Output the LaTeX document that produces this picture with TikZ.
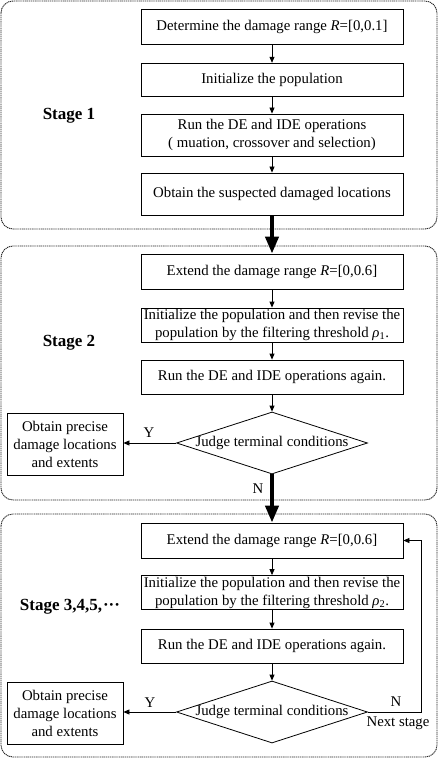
\documentclass[tikz,border=0pt]{standalone}
\usepackage{fontspec}
\setmainfont{Liberation Serif}
\usetikzlibrary{shapes.geometric,arrows.meta}
\newcommand\fs{\fontsize{14.8}{18}\selectfont}
\newcommand\fstage{\fontsize{17}{20}\selectfont\bfseries}
\tikzset{
  stepbox/.style={draw, line width=0.8pt, minimum width=262pt, inner sep=0pt, align=center, font=\fs},
  outbox/.style={draw, line width=0.8pt, minimum width=116pt, minimum height=62pt, inner sep=0pt, align=center, font=\fs},
  judge/.style={draw, diamond, line width=0.8pt, minimum width=191pt, minimum height=62pt, inner sep=0pt},
  txt/.style={font=\fs, inner sep=0pt},
  stagelbl/.style={font=\fstage, inner sep=0pt},
  frame/.style={draw=black!85, line width=0.9pt, dash pattern=on 1.2pt off 0.7pt, rounded corners=12pt},
  arr/.style={line width=0.8pt, -{Triangle[length=6pt,width=5pt]}},
  bigarr/.style={line width=4pt, -{Triangle[length=17pt,width=13pt]}}
}
\begin{document}
\begin{tikzpicture}[x=1pt,y=-1pt]
\useasboundingbox (0,0) rectangle (439,759);
% frames
\draw[frame] (1,1) rectangle (437,229);
\draw[frame] (1,246) rectangle (437,500);
\draw[frame] (1,514) rectangle (437,757);
% stage labels
\node[stagelbl] (s1) at (69,116) {Stage 1};
\node[stagelbl] (s2) at (69,343) {Stage 2};
\node[stagelbl] (s3) at (70,607) {Stage 3,4,5,\kern1pt···};
% stage 1
\node[stepbox, minimum height=35pt] (b1) at (272,26.7) {Determine the damage range \textit{R}=[0,0.1]};
\node[stepbox, minimum height=33pt] (b2) at (272,79.7) {Initialize the population};
\node[stepbox, minimum height=42pt] (b3) at (272,135) {Run the DE and IDE operations\\ ( muation, crossover and selection)};
\node[stepbox, minimum height=42pt] (b4) at (272,194) {Obtain the suspected damaged locations};
% stage 2
\node[stepbox, minimum height=35pt] (c1) at (272,271.5) {Extend the damage range \textit{R}=[0,0.6]};
\node[stepbox, minimum height=34pt] (c2) at (272,325) {Initialize the population and then revise the\\ population by the filtering threshold \textit{ρ}\textsubscript{1}.};
\node[stepbox, minimum height=34pt] (c3) at (272,377) {Run the DE and IDE operations again.};
\node[judge] (cd) at (272,443) {};
\node[txt] (cdt) at (cd.center) {Judge terminal conditions};
\node[outbox] (co) at (65,444) {Obtain precise\\ damage locations\\ and extents};
% stage 3
\node[stepbox, minimum height=35pt] (e1) at (272,540.5) {Extend the damage range \textit{R}=[0,0.6]};
\node[stepbox, minimum height=34pt] (e2) at (272,592.5) {Initialize the population and then revise the\\ population by the filtering threshold \textit{ρ}\textsubscript{2}.};
\node[stepbox, minimum height=34pt] (e3) at (272,646) {Run the DE and IDE operations again.};
\node[judge] (ed) at (272,712) {};
\node[txt] (edt) at (ed.center) {Judge terminal conditions};
\node[outbox] (eo) at (65,713) {Obtain precise\\ damage locations\\ and extents};
% labels
\node[txt] (y2) at (149,433) {Y};
\node[txt] (n2) at (258,489) {N};
\node[txt] (y3) at (150,702.5) {Y};
\node[txt] (n3) at (396,702) {N};
\node[txt] (ns) at (398,723) {Next stage};
\coordinate (fb) at (421,712);
% arrows
\draw[arr] (b1) -- (b2);
\draw[arr] (b2) -- (b3);
\draw[arr] (b3) -- (b4);
\draw[arr] (c1) -- (c2);
\draw[arr] (c2) -- (c3);
\draw[arr] (c3) -- (cd);
\draw[arr] (cd.west) -- (cd.west -| co.east);
\draw[arr] (e1) -- (e2);
\draw[arr] (e2) -- (e3);
\draw[arr] (e3) -- (ed);
\draw[arr] (ed.west) -- (ed.west -| eo.east);
\draw[arr] (ed.east) -- (ed.east -| fb) |- (e1.east);
\draw[bigarr] (b4.south) -- (c1.north);
\draw[bigarr] (cd.south) -- (e1.north);
\end{tikzpicture}
\end{document}
